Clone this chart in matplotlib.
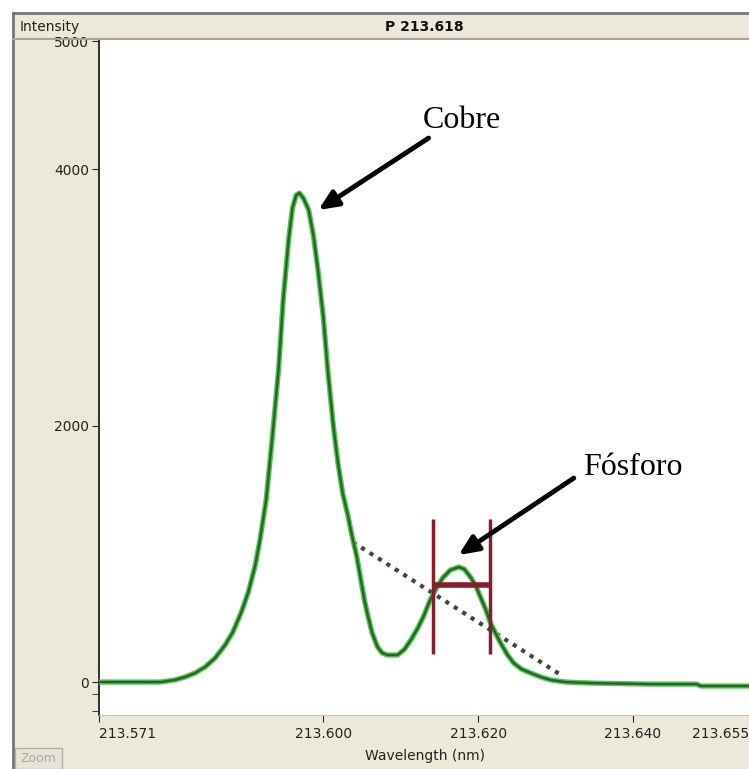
import matplotlib
matplotlib.use("Agg")
import matplotlib.pyplot as plt
from matplotlib.patches import Rectangle
from matplotlib.lines import Line2D

# spectrum
wavelength = [213.5710, 213.5750, 213.5789, 213.5808, 213.5821, 213.5834, 213.5847,
              213.5860, 213.5873, 213.5883, 213.5894, 213.5903, 213.5912, 213.5918,
              213.5926, 213.5934, 213.5942, 213.5948, 213.5955, 213.5960, 213.5965,
              213.5969, 213.5974, 213.5981, 213.5987, 213.5993, 213.6000, 213.6006,
              213.6013, 213.6019, 213.6025, 213.6032, 213.6037, 213.6043, 213.6048,
              213.6053, 213.6057, 213.6063,
              213.6070, 213.6076, 213.6083, 213.6096, 213.6105, 213.6113, 213.6122,
              213.6129, 213.6138, 213.6146, 213.6154, 213.6164, 213.6175, 213.6182,
              213.6190, 213.6197, 213.6203, 213.6210, 213.6216, 213.6223, 213.6229,
              213.6238, 213.6246, 213.6256, 213.6268, 213.6281, 213.6294, 213.6313,
              213.6346, 213.6423, 213.6482, 213.6488, 213.6550]
intensity = [0, 0, 0, 16, 39, 70, 117,
             187, 289, 390, 546, 702, 913, 1108,
             1420, 1911, 2434, 2980, 3448, 3697, 3799,
             3814, 3775, 3682, 3487, 3214, 2839, 2410,
             1990, 1700, 1470, 1290, 1139, 983, 811,
             640, 530, 382,
             273, 226, 211, 211, 257, 328, 421,
             507, 640, 733, 811, 874, 897, 881,
             819, 749, 663, 562, 460, 374, 304,
             211, 148, 101, 70, 39, 16, 0,
             -8, -16, -16, -31, -31]

# background line under the phosphorus peak
bg_wl = [213.6038, 213.6307]
bg_int = [1092, 55]

# integration window markers
win_left, win_right = 213.6141, 213.6215
win_low, win_high, win_mid = 218, 1271, 757

x_ticks = [213.571, 213.600, 213.620, 213.640, 213.655]
x_labels = ["213.571", "213.600", "213.620", "213.640", "213.655"]
y_ticks = [0, 2000, 4000, 5000]
y_labels = ["0", "2000", "4000", "5000"]

W, H = 749, 769
beige = "#ece9d8"

fig = plt.figure(figsize=(W / 100, H / 100), dpi=100, facecolor="white")

def fx(px):
    return px / W

def fy(py):
    return 1 - py / H

# window frame
fig.patches.append(Rectangle((fx(13), 0), 1 - fx(13), fy(13), transform=fig.transFigure,
                             facecolor=beige, edgecolor="none", zorder=-2))
fig.lines.append(Line2D([fx(13), 1], [fy(13), fy(13)], transform=fig.transFigure,
                        color="#777777", lw=2))
fig.lines.append(Line2D([fx(13), fx(13)], [fy(13), 0], transform=fig.transFigure,
                        color="#777777", lw=2))
fig.lines.append(Line2D([fx(13), 1], [fy(39), fy(39)], transform=fig.transFigure,
                        color="#a5a49c", lw=1.5))

fig.text(fx(20), fy(27), "Intensity", fontsize=10, color="#222222", va="center", ha="left")
fig.text(fx(424), fy(27), "P 213.618", fontsize=10, fontweight="bold", color="#111111",
         va="center", ha="center")
fig.text(fx(425), fy(756), "Wavelength (nm)", fontsize=10, color="#222222",
         va="center", ha="center")

# grey "Zoom" button
fig.patches.append(Rectangle((fx(15), fy(769)), fx(47), 21 / H, transform=fig.transFigure,
                             facecolor="#e6e4d6", edgecolor="#b5b3a8", lw=1, zorder=-1))
fig.text(fx(38), fy(759), "Zoom", fontsize=9, color="#a8a8a0", va="center", ha="center")

ax = fig.add_axes([fx(99), 54 / H, (W - 99) / W, (715 - 40) / H], facecolor="white")
ax.set_zorder(2)
ax.set_xlim(213.571, 213.655)
ax.set_ylim(-257, 5008)

ax.plot(wavelength, intensity, color="#55c055", lw=3.8, solid_joinstyle="round", zorder=3)
ax.plot(wavelength, intensity, color="#1c6a1c", lw=1.7, solid_joinstyle="round", zorder=4)
ax.plot(bg_wl, bg_int, color="#3c4a3c", lw=3, linestyle=(0, (1, 1.4)), zorder=2)

maroon = "#8b1c2c"
ax.vlines([win_left, win_right], win_low, win_high, color=maroon, lw=2.5, zorder=5)
ax.hlines(win_mid, win_left, win_right, color=maroon, lw=4, zorder=5)

arrow = dict(arrowstyle="-|>,head_length=0.9,head_width=0.4", color="black", lw=3.5,
             mutation_scale=13, shrinkA=0, shrinkB=0)
ax.annotate("", xy=(213.59935, 3682), xytext=(213.61359, 4243), arrowprops=arrow, zorder=6)
ax.annotate("", xy=(213.61747, 991), xytext=(213.63236, 1591), arrowprops=arrow, zorder=6)
ax.text(213.61786, 4384, "Cobre", family="Liberation Serif", fontsize=23,
        ha="center", va="center", zorder=6)
ax.text(213.6400, 1677, "Fósforo", family="Liberation Serif", fontsize=23,
        ha="center", va="center", zorder=6)

for side in ["top", "right"]:
    ax.spines[side].set_visible(False)
ax.spines["bottom"].set_color("#c9c7bc")
ax.spines["left"].set_color("#222222")
ax.spines["left"].set_linewidth(1.3)

ax.set_xticks(x_ticks)
ax.set_xticklabels(x_labels)
ax.set_yticks(y_ticks)
ax.set_yticklabels(y_labels)
ax.set_yticks([-90, -225], minor=True)
ax.tick_params(axis="both", labelsize=10, colors="#222222", direction="out")
ax.tick_params(axis="y", length=5, pad=2)
ax.tick_params(axis="y", which="minor", length=5, color="#222222")
ax.tick_params(axis="x", length=5, pad=4)
labels = ax.get_xticklabels()
labels[0].set_horizontalalignment("left")
labels[-1].set_horizontalalignment("right")

fig.savefig("out.png", dpi=100, facecolor="white")
